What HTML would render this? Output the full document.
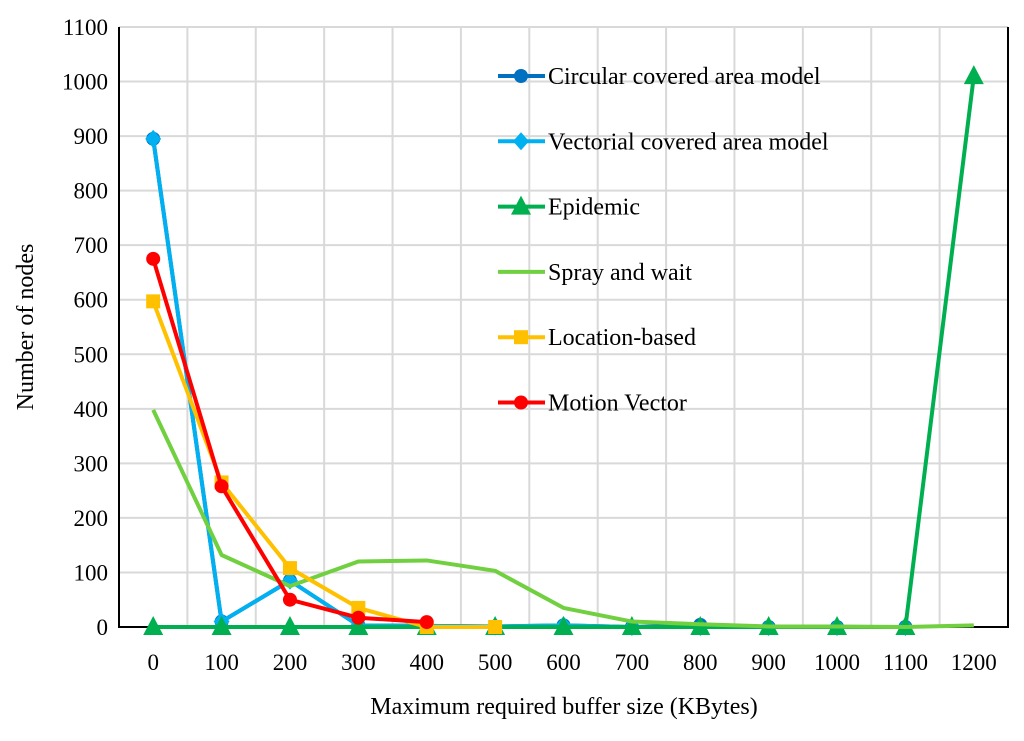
<!DOCTYPE html>
<html><head><meta charset="utf-8"><style>
body{margin:0;background:#fff}
svg text{font-family:"Liberation Serif",serif;fill:#000}
</style></head><body>
<svg id="c" width="1024" height="736"></svg>
<script>
const cats=[0,100,200,300,400,500,600,700,800,900,1000,1100,1200];
const yTicks=[0,100,200,300,400,500,600,700,800,900,1000,1100];
const circular=[895,10,85,3,2,1,3,0,4,0,0,0];
const vectorial=[895,10,85,3,2,1,3,0,0,0,0,0];
const epidemic=[0,0,0,0,0,0,0,0,0,0,0,0,1010];
const spray=[398,132,75,120,122,103,35,10,5,1,1,0,3];
const location_=[597,265,108,35,0,0];
const motion=[675,258,50,17,9];
const NS='http://www.w3.org/2000/svg';
const svg=document.getElementById('c');
const L=119,R=1008,T=27,B=627;
const step=(R-L)/cats.length;
const x=i=>L+step*(i+0.5);
const y=v=>B-(v/1100)*(B-T);
function mk(t,a,p){const e=document.createElementNS(NS,t);for(const k in a)e.setAttribute(k,a[k]);(p||svg).appendChild(e);return e;}
for(const v of yTicks){
 const g=mk('line',{x1:L,x2:R,y1:y(v),y2:y(v),stroke:'#d9d9d9','stroke-width':2});
 
 
 const t=mk('text',{x:L-11,y:y(v)+8,'text-anchor':'end','font-size':23});t.textContent=v;
 
 
}
for(let i=1;i<cats.length;i++){
 const g=mk('line',{x1:L+step*i,x2:L+step*i,y1:T,y2:B,stroke:'#d9d9d9','stroke-width':2});
 
 
}
cats.forEach((c,i)=>{const t=mk('text',{x:x(i),y:670,'text-anchor':'middle','font-size':23});t.textContent=c;
 
 });
const fr=mk('path',{d:`M${L},${T}V${B}H${R}V${T}`,fill:'none',stroke:'#000','stroke-width':2});


function marker(type,cx,cy,col,p){
 if(type==='circle')return mk('circle',{cx,cy,r:7,fill:col},p);
 if(type==='diamond')return mk('polygon',{points:`${cx},${cy-9} ${cx+8},${cy} ${cx},${cy+9} ${cx-8},${cy}`,fill:col},p);
 if(type==='tri')return mk('polygon',{points:`${cx},${cy-11} ${cx+10},${cy+8} ${cx-10},${cy+8}`,fill:col},p);
 if(type==='square')return mk('rect',{x:cx-7,y:cy-7,width:14,height:14,fill:col},p);
}
function series(name,vals,col,type){
 const g=mk('g',{});
 
 
 mk('polyline',{points:vals.map((v,i)=>x(i)+','+y(v)).join(' '),fill:'none',stroke:col,'stroke-width':4,'stroke-linejoin':'round'},g);
 if(type)vals.forEach((v,i)=>{const m=marker(type,x(i),y(v),col,g);
  
  });
}
series('circular',circular,'#0070c0','circle');
series('vectorial',vectorial,'#00b0f0','diamond');
series('epidemic',epidemic,'#00b050','tri');
series('spray',spray,'#70d040',null);
series('location',location_,'#ffc000','square');
series('motion',motion,'#ff0000','circle');
const leg=[['Circular covered area model','#0070c0','circle'],['Vectorial covered area model','#00b0f0','diamond'],['Epidemic','#00b050','tri'],['Spray and wait','#70d040',null],['Location-based','#ffc000','square'],['Motion Vector','#ff0000','circle']];
const lg=mk('g',{});


leg.forEach((l,i)=>{const yy=76+i*65.3;
 const e=mk('g',{},lg);
 
 
 mk('line',{x1:498,x2:545,y1:yy,y2:yy,stroke:l[1],'stroke-width':4},e);
 if(l[2])marker(l[2],521,yy,l[1],e);
 const t=mk('text',{x:548,y:yy+8,'font-size':24},e);t.textContent=l[0];});
const xt=mk('text',{x:564,y:714,'text-anchor':'middle','font-size':24});xt.textContent='Maximum required buffer size (KBytes)';


const yt=mk('text',{x:0,y:0,'text-anchor':'middle','font-size':24,transform:'translate(33,327) rotate(-90)'});yt.textContent='Number of nodes';


</script>
</body></html>
